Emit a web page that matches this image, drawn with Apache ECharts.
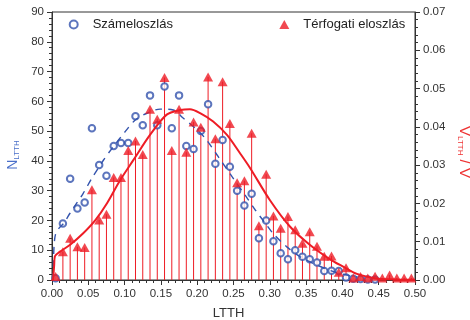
<!DOCTYPE html>
<html>
<head>
<meta charset="utf-8">
<script src="https://cdn.jsdelivr.net/npm/echarts@6/dist/echarts.min.js"></script>
<style>html,body{margin:0;padding:0;background:#fff}#c{width:470px;height:320px}</style>
</head>
<body>
<div id="c"></div>
<script>
// Bin centres (LTTH)
const bins = [0.005,0.015,0.025,0.035,0.045,0.055,0.065,0.075,0.085,0.095,
  0.105,0.115,0.125,0.135,0.145,0.155,0.165,0.175,0.185,0.195,
  0.205,0.215,0.225,0.235,0.245,0.255,0.265,0.275,0.285,0.295,
  0.305,0.315,0.325,0.335,0.345,0.355,0.365,0.375,0.385,0.395,
  0.405,0.415,0.425,0.435,0.445,0.455,0.465,0.475,0.485,0.495];
// Számeloszlás (N_LTTH, left axis)
const numCounts = [0.6,19,34,24,26,51,38.6,35,45,46,
  46,55,52,62,52,65,51,62,45,44,
  50,59,39,47,38,30,25,29,14,20,
  13,9,7,10,7.8,7,5.9,3,3.1,3,
  0.8,0.4,0.3,0.2,0.2];
// Térfogati eloszlás (V_LTTH / V, right axis)
const volFrac = [0.0009,0.0074,0.0109,0.0087,0.0085,0.0236,0.0157,0.0172,0.0268,0.0268,
  0.0338,0.0363,0.0328,0.0446,0.0420,0.0529,0.0338,0.0446,0.0334,0.0413,
  0.0399,0.0530,0.0369,0.0518,0.0409,0.0254,0.0259,0.0383,0.0142,0.0276,
  0.0167,0.0135,0.0166,0.0131,0.0096,0.0126,0.0088,0.0062,0.0063,0.0020,
  0.0032,0.0005,0.0009,0.0005,0.0010,0.0005,0.0013,0.0005,0.0005,0.0005];
// Fitted number distribution (dashed)
const numFitX = [0.0015,0.002,0.003,0.005,0.01,0.016,0.025,0.034,0.043,0.055,0.071,0.083,0.101,0.115,0.131,0.149,0.167,0.181,0.2,0.213,0.229,0.248,0.266,0.28,0.294,0.305,0.323,0.342,0.365,0.392,0.42];
const numFitY = [0,6,12,15.5,17.5,19,22.5,25.8,29.1,34.2,40.3,44.3,49.9,53.8,56,57.4,57.1,54.3,50.4,47,41.4,34.7,28.5,23.5,19,15.5,11.2,7.8,5.0,2.5,1.0];
// Fitted volume distribution (solid)
const volFitX = [0.0015,0.003,0.004,0.011,0.025,0.043,0.06,0.076,0.094,0.112,0.135,0.158,0.177,0.19,0.204,0.222,0.241,0.259,0.273,0.3,0.328,0.355,0.383,0.401,0.42,0.447,0.47,0.5];
const volFitY = [0,0.0039,0.0062,0.0074,0.0092,0.0122,0.0157,0.0201,0.0261,0.0313,0.0379,0.0432,0.0444,0.0446,0.0436,0.0414,0.0379,0.0331,0.0292,0.0209,0.0139,0.0092,0.0054,0.0035,0.0016,0.0004,0.00016,0.00004];
// Tick settings
const xTicks = {min:0, max:0.5, interval:0.05};
const yLeftTicks = {min:0, max:90, interval:10};
const yRightTicks = {min:0, max:0.07, interval:0.01};

const RED = '#ee1c25', BLUE = '#3353ad';
const FONT = 'Liberation Sans, Arial, sans-serif';
const axisCommon = {
  axisLine:{show:true, onZero:false, lineStyle:{color:'#333', width:1}},
  axisTick:{show:true, inside:false, length:5, lineStyle:{color:'#333'}},
  minorTick:{show:true, splitNumber:5, length:3, lineStyle:{color:'#333'}},
  splitLine:{show:false},
  axisLabel:{color:'#333', fontSize:11.5, fontFamily:FONT}
};

const chart = echarts.init(document.getElementById('c'), null, {renderer:'canvas'});
chart.setOption({
  animation:false,
  backgroundColor:'#fff',
  grid:{left:52, right:55, top:12, bottom:40, outerBoundsMode:'none', containLabel:false,
    show:true, borderColor:'#333', borderWidth:1, backgroundColor:'transparent'},
  legend:[
    {data:['Számeloszlás'], left:68.7, top:18, padding:0, itemWidth:8, itemHeight:8,
     textStyle:{fontSize:13, color:'#222', fontFamily:FONT, padding:[0,0,0,10]}},
    {data:['Térfogati eloszlás'], left:279.3, top:18, padding:0, itemWidth:10, itemHeight:9,
     textStyle:{fontSize:13, color:'#222', fontFamily:FONT, padding:[0,0,0,9]}}
  ],
  xAxis:Object.assign({type:'value', min:xTicks.min, max:xTicks.max, interval:xTicks.interval,
    name:'LTTH', nameLocation:'middle', nameGap:27,
    nameTextStyle:{fontSize:13, color:'#333', fontFamily:FONT, padding:[0,10,0,0]}}, axisCommon,
    {axisLabel:Object.assign({}, axisCommon.axisLabel, {formatter:v=>v.toFixed(2), margin:8})}),
  yAxis:[
    Object.assign({type:'value', position:'left', min:yLeftTicks.min, max:yLeftTicks.max, interval:yLeftTicks.interval,
      name:'{n|N}{s|LTTH}', nameLocation:'middle', nameRotate:90, nameGap:26,
      nameTextStyle:{color:'#4a6fc9', fontFamily:FONT, padding:[0,18,0,0],
        rich:{n:{fontSize:14, lineHeight:14, color:'#4a6fc9', fontFamily:FONT},
              s:{fontSize:8, lineHeight:8, verticalAlign:'bottom', color:'#4a6fc9', fontFamily:FONT}}}}, axisCommon),
    Object.assign({type:'value', position:'right', min:yRightTicks.min, max:yRightTicks.max, interval:yRightTicks.interval,
      name:'{n|V}{s|LTTH}{n| / V}', nameLocation:'middle', nameRotate:-90, nameGap:34,
      nameTextStyle:{color:'#ee3333', fontFamily:FONT, padding:[0,0,0,12],
        rich:{n:{fontSize:15, lineHeight:15, color:'#ee3333', fontFamily:FONT},
              s:{fontSize:8, lineHeight:8, verticalAlign:'bottom', color:'#ee3333', fontFamily:FONT}}}}, axisCommon,
      {axisLabel:Object.assign({}, axisCommon.axisLabel, {formatter:v=>v.toFixed(2)})})
  ],
  series:[
    {name:'stems', type:'bar', yAxisIndex:1, barWidth:1, z:1,
     itemStyle:{color:RED}, data:bins.map((x,i)=>[x, volFrac[i]])},
    {name:'Számeloszlás', type:'scatter', yAxisIndex:0, symbol:'emptyCircle', symbolSize:6.5, z:3,
     itemStyle:{color:BLUE, borderColor:BLUE, borderWidth:1},
     data:numCounts.map((v,i)=>[bins[i], v])},
    {name:'numfit', type:'line', yAxisIndex:0, showSymbol:false, symbol:'none', smooth:0.3, z:4,
     lineStyle:{color:BLUE, width:1.4, type:[7,6]},
     data:numFitX.map((x,i)=>[x, numFitY[i]])},
    {name:'Térfogati eloszlás', type:'scatter', yAxisIndex:1, symbol:'triangle', symbolSize:[10,9], z:5,
     itemStyle:{color:RED},
     data:volFrac.map((v,i)=>[bins[i], v])},
    {name:'volfit', type:'line', yAxisIndex:1, showSymbol:false, symbol:'none', smooth:0.3, z:6,
     lineStyle:{color:RED, width:2},
     data:volFitX.map((x,i)=>[x, volFitY[i]])}
  ]
});
</script>
</body>
</html>
